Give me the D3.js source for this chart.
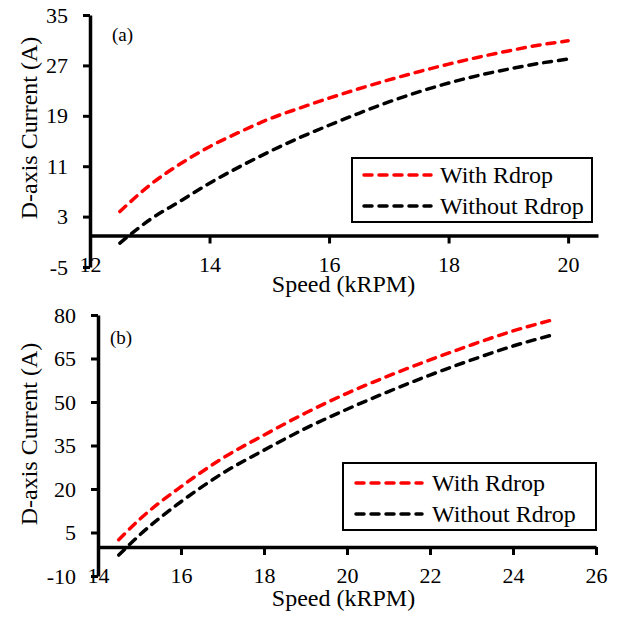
<!DOCTYPE html>
<html lang="en">
<head>
    <meta charset="UTF-8">
    <title>D-axis Current vs Speed</title>
    <script src="https://d3js.org/d3.v7.min.js"></script>
    <style>
        body {
            margin: 0;
            background: #fff;
        }

        text {
            font-family: "Liberation Serif", "Times New Roman", serif;
            fill: #000;
        }

        .axis text {
            font-size: 22px;
        }

        .axis .domain {
            stroke: #000;
            stroke-width: 3.5px;
        }

        .axis .tick line {
            stroke: #000;
            stroke-width: 3px;
        }

        .curve {
            fill: none;
            stroke-width: 3.5px;
            stroke-dasharray: 8 7;
            stroke-linecap: round;
        }
    </style>
</head>
<body>

<svg id="chart" width="622" height="621"></svg>

<script>
// Panel (a) data
const speedA = [12.5, 13, 13.5, 14, 14.5, 15, 15.5, 16, 16.5, 17, 17.5, 18, 18.5, 19, 19.5, 20];
const withRdropA = [3.8, 8.0, 11.3, 14.1, 16.4, 18.5, 20.2, 21.8, 23.3, 24.7, 26.0, 27.2, 28.3, 29.3, 30.2, 30.9];
const withoutRdropA = [-1.2, 2.5, 5.4, 8.3, 10.9, 13.3, 15.5, 17.5, 19.4, 21.2, 22.8, 24.2, 25.4, 26.4, 27.3, 28.0];
const xTicksA = [12, 14, 16, 18, 20];
const yTicksA = [-5, 3, 11, 19, 27, 35];

// Panel (b) data
const speedB = [14.5, 15, 16, 17, 18, 19, 20, 21, 22, 23, 24, 25];
const withRdropB = [2.5, 9.5, 20.8, 30.6, 38.6, 46.2, 53.0, 59.0, 64.5, 69.7, 74.5, 78.5];
const withoutRdropB = [-2.8, 4.1, 15.6, 25.4, 33.4, 40.9, 47.5, 53.6, 59.3, 64.5, 69.3, 73.3];
const xTicksB = [14, 16, 18, 20, 22, 24, 26];
const yTicksB = [-10, 5, 20, 35, 50, 65, 80];

const seriesNames = ["With Rdrop", "Without Rdrop"];
const seriesColors = ["#ff0000", "#000000"];

const svg = d3.select("#chart");

// plain hyphen for negatives, like the original
const fmt = d => String(d);

function drawPanel(p) {
    const g = svg.append("g");

    const x = d3.scaleLinear().domain(p.xDomain).range([p.left, p.right]);
    const y = d3.scaleLinear().domain(d3.extent(p.yTicks)).range([p.bottom, p.top]);

    // x tick labels sit below the plot area, not at the zero line
    const xLabels = g.append("g")
        .attr("class", "axis")
        .attr("transform", `translate(0,${p.bottom})`)
        .call(d3.axisBottom(x).tickValues(p.xTicks).tickSize(0).tickFormat(fmt));
    xLabels.select(".domain").remove();
    xLabels.selectAll("text").attr("y", p.xLabelDy).attr("dy", 0);

    // x axis line crosses at zero
    g.append("g")
        .attr("class", "axis")
        .attr("transform", `translate(0,${y(0)})`)
        .call(d3.axisBottom(x).tickValues(p.xTicks).tickSize(8).tickSizeOuter(0).tickFormat(""));

    // y axis
    g.append("g")
        .attr("class", "axis")
        .attr("transform", `translate(${p.left},0)`)
        .call(d3.axisLeft(y).tickValues(p.yTicks).tickSize(7).tickPadding(15).tickSizeOuter(0).tickFormat(fmt));

    // curves
    const line = d3.line()
        .x(d => x(d[0]))
        .y(d => y(d[1]))
        .curve(d3.curveMonotoneX);

    p.series.forEach((vals, i) => {
        g.append("path")
            .attr("class", "curve")
            .attr("stroke", seriesColors[i])
            .attr("d", line(p.speed.map((s, j) => [s, vals[j]])));
    });

    // axis titles
    g.append("text")
        .attr("transform", `translate(37,${p.yTitleY}) rotate(-90)`)
        .attr("text-anchor", "middle")
        .style("font-size", "24px")
        .text("D-axis Current (A)");

    g.append("text")
        .attr("x", 343.5)
        .attr("y", p.xTitleY)
        .attr("text-anchor", "middle")
        .style("font-size", "24px")
        .text("Speed (kRPM)");

    // panel tag
    g.append("text")
        .attr("x", p.tagX)
        .attr("y", p.tagY)
        .style("font-size", "19px")
        .text(p.tag);

    // legend
    const lg = p.legend;
    g.append("rect")
        .attr("x", lg.x)
        .attr("y", lg.y)
        .attr("width", lg.w)
        .attr("height", lg.h)
        .attr("fill", "#fff")
        .attr("stroke", "#000")
        .attr("stroke-width", 2);

    seriesNames.forEach((name, i) => {
        const ly = lg.rows[i];
        g.append("line")
            .attr("class", "curve")
            .attr("x1", lg.lineX1)
            .attr("x2", lg.lineX2)
            .attr("y1", ly)
            .attr("y2", ly)
            .attr("stroke", seriesColors[i]);
        g.append("text")
            .attr("x", lg.textX)
            .attr("y", ly + 8)
            .style("font-size", "24px")
            .text(name);
    });
}

drawPanel({
    tag: "(a)", tagX: 112, tagY: 41,
    left: 90, right: 598, top: 15, bottom: 267,
    xDomain: [12, 20.5], xTicks: xTicksA, yTicks: yTicksA, xLabelDy: 5,
    speed: speedA, series: [withRdropA, withoutRdropA],
    yTitleY: 128, xTitleY: 292,
    legend: {x: 352, y: 158, w: 240, h: 64, lineX1: 364, lineX2: 431, textX: 440, rows: [175, 206]}
});

drawPanel({
    tag: "(b)", tagX: 110, tagY: 344,
    left: 98, right: 596, top: 315, bottom: 576,
    xDomain: [14, 26], xTicks: xTicksB, yTicks: yTicksB, xLabelDy: 7,
    speed: speedB, series: [withRdropB, withoutRdropB],
    yTitleY: 434, xTitleY: 606,
    legend: {x: 343, y: 463, w: 253, h: 67, lineX1: 356, lineX2: 422, textX: 432, rows: [483, 514]}
});
</script>

</body>
</html>
